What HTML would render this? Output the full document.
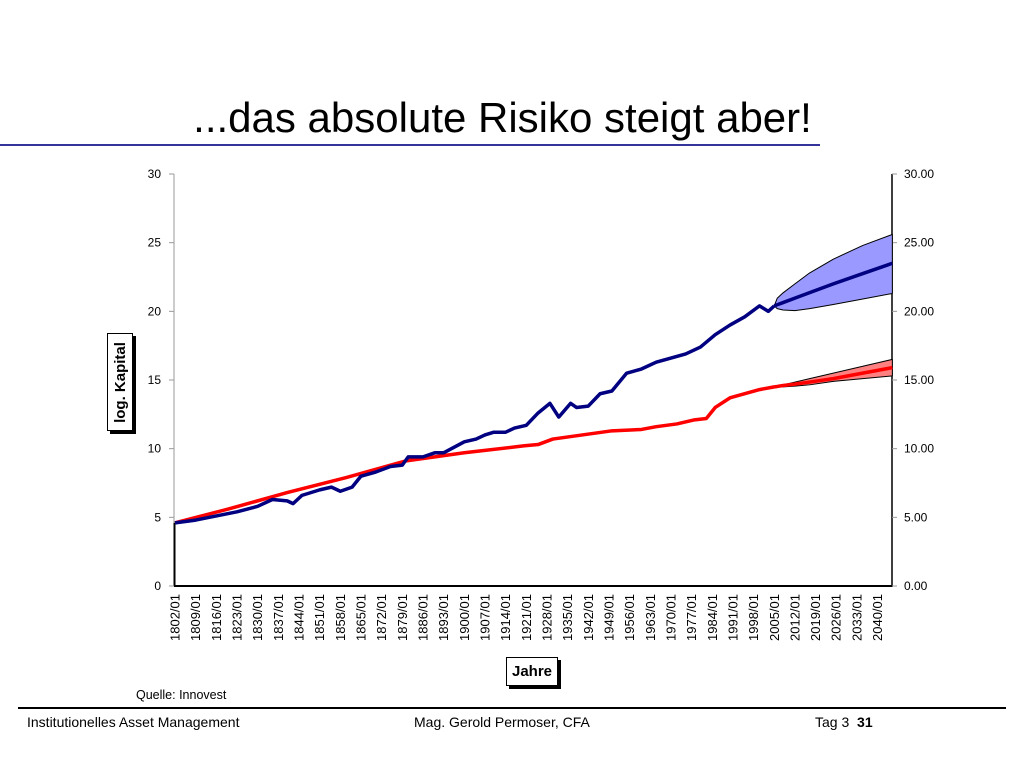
<!DOCTYPE html>
<html><head><meta charset="utf-8"><style>
body{margin:0;width:1024px;height:768px;background:#fff;font-family:"Liberation Sans",Arial,sans-serif;overflow:hidden;position:relative}
</style></head><body>
<div style="position:absolute;left:0;width:1005px;top:94px;text-align:center;font-size:42px;color:#000">...das absolute Risiko steigt aber!</div>
<div style="position:absolute;left:0;top:144px;width:820px;height:2px;background:#33339a"></div>
<svg id="chart" width="1024" height="768" style="position:absolute;left:0;top:0" font-family="Liberation Sans, Arial, sans-serif"></svg>
<div style="position:absolute;left:107px;top:333px;width:24px;height:96px;border:1px solid #000;box-shadow:3px 3px 0 #000;background:#fff;display:flex;align-items:center;justify-content:center"><span style="transform:rotate(-90deg);white-space:nowrap;font-weight:bold;font-size:15px">log. Kapital</span></div>
<div style="position:absolute;left:506px;top:657px;width:50px;height:27px;border:1px solid #000;box-shadow:3px 3px 0 #000;background:#fff;text-align:center;line-height:27px;font-weight:bold;font-size:15px">Jahre</div>
<div style="position:absolute;left:136px;top:688px;font-size:12.5px">Quelle: Innovest</div>
<div style="position:absolute;left:18px;top:707px;width:988px;height:2px;background:#000"></div>
<div style="position:absolute;left:27px;top:714px;font-size:14px">Institutionelles Asset Management</div>
<div style="position:absolute;left:414px;top:714px;font-size:14px">Mag. Gerold Permoser, CFA</div>
<div style="position:absolute;left:815px;top:714px;font-size:14px">Tag 3 &nbsp;<b>31</b></div>
<script>
const yTicks=[0,5,10,15,20,25,30];
const xLabelYears=[];for(let y=1802;y<=2040;y+=7)xLabelYears.push(y);
const stockYears=[1802,1809,1816,1823,1830,1835,1840,1842,1845,1851,1855,1858,1862,1865,1870,1875,1879,1881,1886,1890,1893,1900,1904,1907,1910,1914,1917,1921,1925,1929,1932,1936,1938,1942,1946,1950,1955,1960,1965,1970,1975,1980,1985,1990,1995,2000,2003,2005];
const stockValues=[4.6,4.8,5.1,5.4,5.8,6.3,6.2,6.0,6.6,7.0,7.2,6.9,7.2,8.0,8.3,8.7,8.8,9.4,9.4,9.7,9.7,10.5,10.7,11.0,11.2,11.2,11.5,11.7,12.6,13.3,12.3,13.3,13.0,13.1,14.0,14.2,15.5,15.8,16.3,16.6,16.9,17.4,18.3,19.0,19.6,20.4,20.0,20.4];
const bondYears=[1802,1820,1840,1860,1880,1900,1920,1925,1930,1940,1950,1960,1965,1972,1978,1982,1985,1990,1995,2000,2005];
const bondValues=[4.6,5.6,6.8,7.9,9.1,9.7,10.2,10.3,10.7,11.0,11.3,11.4,11.6,11.8,12.1,12.2,13.0,13.7,14.0,14.3,14.5];
const projYears=[2005,2006,2008,2012,2017,2025,2035,2045];
const stockMean=[20.4,20.48,20.64,20.96,21.36,22.0,22.75,23.5];
const stockUpper=[20.4,20.95,21.35,22.0,22.8,23.8,24.8,25.6];
const stockLower=[20.4,20.2,20.1,20.05,20.2,20.5,20.9,21.3];
const bondMean=[14.5,14.53,14.6,14.7,14.85,15.1,15.5,15.9];
const bondUpper=[14.5,14.55,14.65,14.85,15.1,15.5,16.0,16.5];
const bondLower=[14.5,14.5,14.5,14.55,14.65,14.9,15.1,15.3];
const X=y=>175+(y-1802)*2.952, Y=v=>586-v*13.733;
const svg=document.getElementById('chart'),NS='http://www.w3.org/2000/svg';
function mk(t,a){const e=document.createElementNS(NS,t);for(const k in a)e.setAttribute(k,a[k]);svg.appendChild(e);return e;}
let e;
e=mk('line',{x1:174,y1:174,x2:174,y2:586,stroke:'#999','stroke-width':1});

e=mk('line',{x1:892,y1:174,x2:892,y2:587,stroke:'#000','stroke-width':1.5});

e=mk('line',{x1:174,y1:586,x2:892,y2:586,stroke:'#000','stroke-width':2});

e=mk('line',{x1:174.5,y1:Y(stockValues[0]),x2:174.5,y2:586,stroke:'#000','stroke-width':2});

yTicks.forEach(v=>{
 e=mk('line',{x1:169,x2:174,y1:Y(v),y2:Y(v),stroke:'#999'});
 
 e=mk('line',{x1:892,x2:897,y1:Y(v),y2:Y(v),stroke:'#999'});
 
 e=mk('text',{x:161,y:Y(v)+4,'text-anchor':'end','font-size':12});e.textContent=v;
 
 e=mk('text',{x:904,y:Y(v)+4,'font-size':12});e.textContent=v.toFixed(2);
 
});
xLabelYears.forEach(y=>{
 const x=X(y)+4.5;
 e=mk('text',{x:0,y:0,'text-anchor':'end','font-size':13,transform:`translate(${x},594) rotate(-90)`});e.textContent=y+'/01';
 
});
function band(U,L,fill){
 let d='M'+projYears.map((y,i)=>X(y)+','+Y(U[i])).join('L');
 for(let i=projYears.length-1;i>=0;i--)d+='L'+X(projYears[i])+','+Y(L[i]);
 return mk('path',{d:d+'Z',fill:fill,stroke:'#000','stroke-width':1,'stroke-linejoin':'round'});
}
function line(xs,vs,col,w){return mk('polyline',{points:xs.map((y,i)=>X(y)+','+Y(vs[i])).join(' '),fill:'none',stroke:col,'stroke-width':w,'stroke-linejoin':'round'});}
e=band(stockUpper,stockLower,'#9999ff');
e=band(bondUpper,bondLower,'#ff8080');
e=line(bondYears,bondValues,'#ff0000',3.5);
e=line(projYears,bondMean,'#ff0000',3.5);
e=line(stockYears,stockValues,'#000080',3.5);
e=line(projYears,stockMean,'#000080',3.5);
</script>
</body></html>
